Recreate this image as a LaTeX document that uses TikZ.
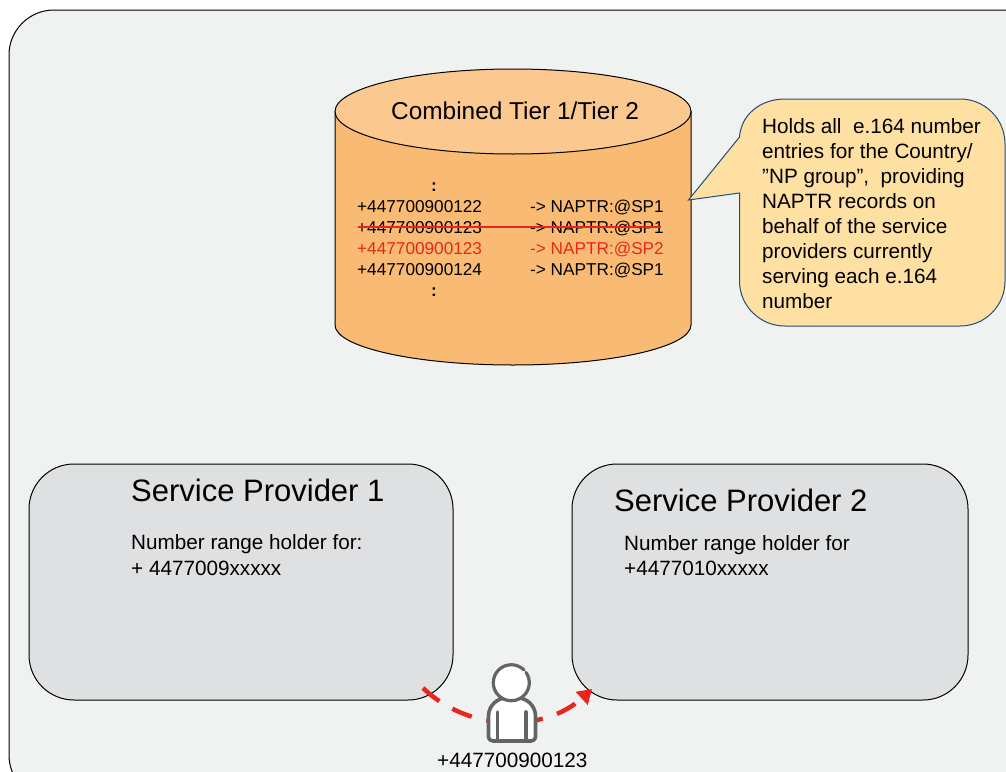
\documentclass[tikz,border=0pt]{standalone}
\usepackage{fontspec}
\setmainfont{Liberation Sans}
\usetikzlibrary{arrows.meta}
\definecolor{bgfill}{HTML}{F0F2F2}
\definecolor{spfill}{HTML}{DFE0E2}
\definecolor{cyltop}{HTML}{FBC88F}
\definecolor{cylbody}{HTML}{F9BB73}
\definecolor{callfill}{HTML}{FFE0A3}
\definecolor{callline}{HTML}{1F4E79}
\definecolor{redline}{HTML}{E8261C}
\definecolor{persongray}{HTML}{636466}
\newcommand{\fs}[1]{\fontsize{#1}{#1}\selectfont}
\tikzset{
  x=1pt,y=-1pt,
  txt/.style={inner sep=0pt,anchor=base west,font=\fs{20.7}},
  rec/.style={inner sep=0pt,anchor=base west,font=\fs{17.2}},
  title/.style={inner sep=0pt,anchor=base west,font=\fs{31}},
  spbox/.style={draw=black,line width=1pt,fill=spfill,rounded corners=45pt,inner sep=0pt,anchor=north west},
  personline/.style={draw=persongray,line width=3.6pt,line cap=round,line join=round}
}
\begin{document}
\begin{tikzpicture}
\useasboundingbox (0,0) rectangle (1006,771);
\clip (0,0) rectangle (1006,771);
\draw[black,line width=1pt,fill=bgfill,rounded corners=45pt] (9,10) rectangle (1050,800);
% cylinder
\path[draw=black,line width=1pt,fill=cylbody] (335,111.5) -- (335,325) arc[start angle=180,end angle=0,x radius=178,y radius=40] -- (691,111.5) -- cycle;
\path[draw=black,line width=1pt,fill=cyltop] (513,111.5) ellipse[x radius=178,y radius=42.5];
\node[inner sep=0pt,anchor=base west,font=\fs{24.4}] (cyltitle) at (391,119) {Combined Tier 1/Tier 2};
\node[rec,font=\bfseries\fs{17.2},anchor=base] (dots1) at (434,191) {:};
\node[rec] (n1) at (357,212) {+447700900122};
\node[rec] (r1) at (530,212) {-> NAPTR:@SP1};
\node[rec] (n2) at (357,233) {+447700900123};
\node[rec] (r2) at (530,233) {-> NAPTR:@SP1};
\node[rec,text=redline] (n3) at (357,254) {+447700900123};
\node[rec,text=redline] (r3) at (530,254) {-> NAPTR:@SP2};
\node[rec] (n4) at (357,275) {+447700900124};
\node[rec] (r4) at (530,275) {-> NAPTR:@SP1};
\node[rec,font=\bfseries\fs{17.2},anchor=base] (dots2) at (434,296) {:};
\draw[redline,line width=2pt] (358,227) -- (661,227);
% callout
\path[draw=callline,line width=1pt,fill=callfill]
  (688.5,200) -- (739.5,137)
  .. controls (741,115) and (760,99) .. (785,99) -- (960,99)
  .. controls (985,99) and (1005,119) .. (1005,144) -- (1005,281)
  .. controls (1005,306) and (985,326) .. (960,326) -- (785,326)
  .. controls (760,326) and (739.5,306) .. (739.5,281) -- (739.5,193) -- cycle;
\node[txt] (c1) at (762,133.5) {Holds all\ \ e.164 number};
\node[txt] (c2) at (762,158.5) {entries for the Country/};
\node[txt] (c3) at (762,183.5) {”NP group”,\ \ providing};
\node[txt] (c4) at (762,208.5) {NAPTR records on};
\node[txt] (c5) at (762,233.5) {behalf of the service};
\node[txt] (c6) at (762,258.5) {providers currently};
\node[txt] (c7) at (762,283.5) {serving each e.164};
\node[txt] (c8) at (762,308.5) {number};
% service providers
\node[spbox,minimum width=424pt,minimum height=236pt] (sp1) at (28.5,463.5) {};
\node[spbox,minimum width=396pt,minimum height=236pt] (sp2) at (571.5,463.5) {};
\node[title] (t1) at (131,501) {Service Provider 1};
\node[txt] (b1a) at (131,549) {Number range holder for:};
\node[txt] (b1b) at (131,575) {+ 4477009xxxxx};
\node[title] (t2) at (614,511) {Service Provider 2};
\node[txt] (b2a) at (624,550) {Number range holder for};
\node[txt] (b2b) at (624,575) {+4477010xxxxx};
% connector
\coordinate (cstart) at (423,688);
\coordinate (cend) at (592,689);
\draw[redline,line width=4.5pt,dash pattern=on 21pt off 15pt,-{Triangle[length=14pt,width=17pt]}]
  (cstart) .. controls (470,733) and (545,732) .. (cend);
% person
\path[personline,fill=white] (493,741) -- (531,741)
  .. controls (534,741) and (535.5,739) .. (535.5,737) -- (535.5,716)
  .. controls (535.5,706) and (527,698) .. (518,698) -- (506,698)
  .. controls (497,698) and (488.5,706) .. (488.5,716) -- (488.5,737)
  .. controls (488.5,739) and (490,741) .. (493,741) -- cycle;
\path[personline] (497.5,712) -- (497.5,740) (526,712) -- (526,740);
\path[fill=white] (511.5,683) circle[radius=17.5];
\draw[personline,line width=3.2pt] (524,670) arc[start angle=-45,end angle=-395,radius=18];
\node[inner sep=0pt,anchor=base west,font=\fs{20.7}] (lab) at (437,767.5) {+447700900123};
\end{tikzpicture}
\end{document}
